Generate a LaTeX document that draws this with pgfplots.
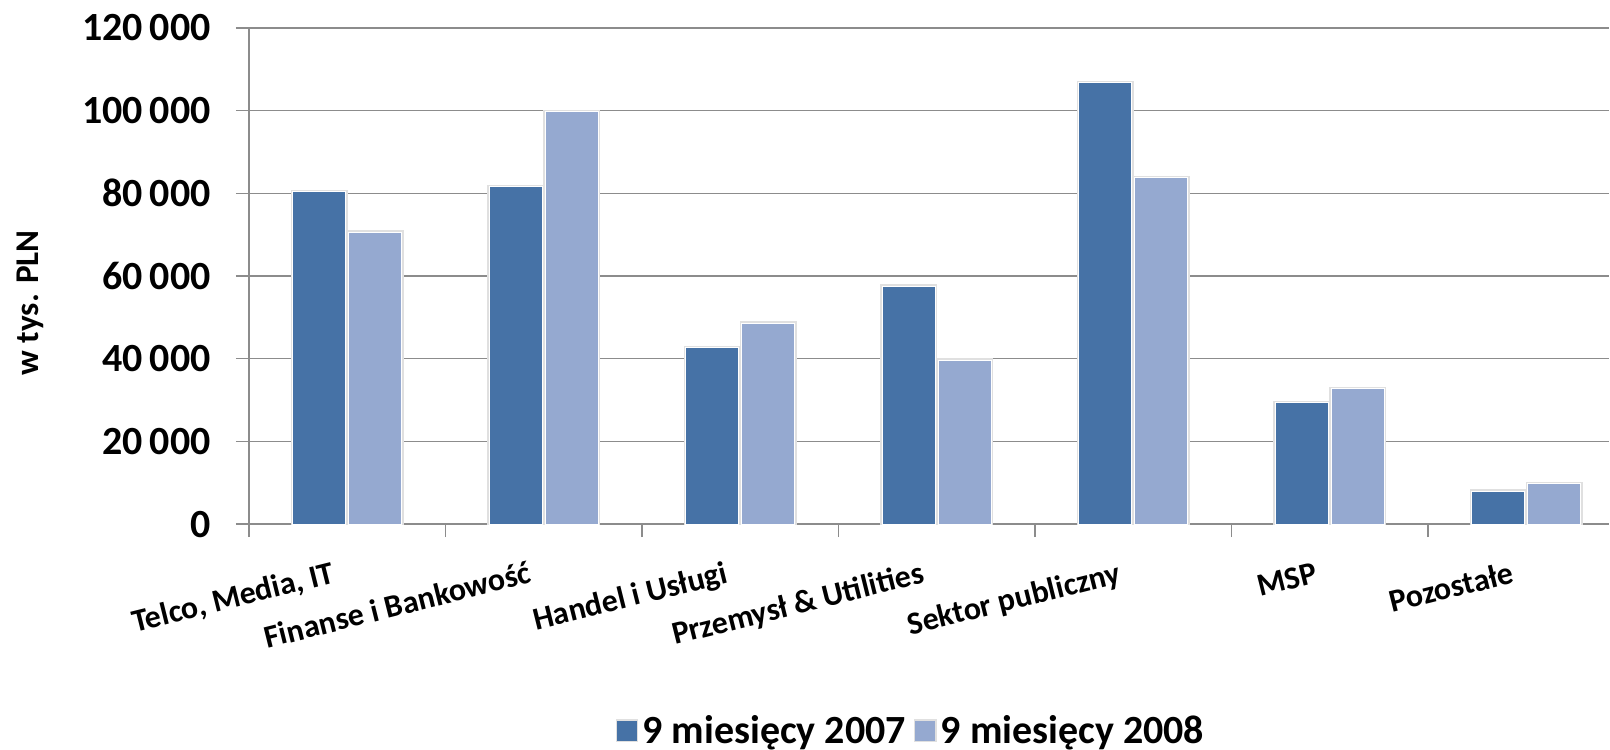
\documentclass[border=0pt]{standalone}
\usepackage{fontspec}
\setmainfont{Carlito}
\usepackage{pgfplots}
\pgfplotsset{compat=1.18}
\definecolor{bdark}{HTML}{4672A6}
\definecolor{blight}{HTML}{95A9D0}
\definecolor{gridc}{HTML}{8C8C8C}
\pgfplotstableread{
x v2007 v2008
0 80400 70600
1 81600 99700
2 42600 48600
3 57500 39600
4 106700 83800
5 29400 32700
6 7900 9800
}\datatable
\begin{document}
\begin{tikzpicture}
\path (-124.5pt,-112.85pt) rectangle (680.5pt,262.15pt);
\begin{axis}[
  at={(0pt,0pt)}, anchor=south west,
  width=680.5pt, height=248.15pt, scale only axis,
  xmin=-0.5, xmax=6.4232, ymin=0, ymax=120000,
  scaled y ticks=false,
  axis lines*=left,
  axis line style={gridc, line width=0.75pt},
  ytick={0,20000,40000,60000,80000,100000,120000},
  yticklabels={0,20\thinspace000,40\thinspace000,60\thinspace000,80\thinspace000,100\thinspace000,120\thinspace000},
  ymajorgrids, grid style={gridc, line width=0.75pt},
  tick align=outside, major tick length=6.5pt,
  tick style={gridc, line width=0.75pt},
  xtick={-0.5,0.5,1.5,2.5,3.5,4.5,5.5},
  xticklabels={{},{},{},{},{},{},{}},
  extra x ticks={0,1,2,3,4,5,6},
  extra x tick labels={{Telco, Media, IT},{Finanse i Bankowość},{Handel i Usługi},{Przemysł \& Utilities},{Sektor publiczny},{MSP},{Pozostałe}},
  extra x tick style={major tick length=0pt,
    xticklabel style={rotate=14, anchor=north east, inner sep=0pt,
      font=\fontsize{16}{19}\selectfont\bfseries, text height=10.3pt, text depth=0pt, yshift=-16.5pt, xshift=-12.2pt}},
  yticklabel style={anchor=east, inner sep=0pt, xshift=-12.45pt, font=\fontsize{20}{24}\selectfont\bfseries},
  legend style={at={(0.4874,-0.4165)}, anchor=center, draw=none, fill=none, legend columns=2, overlay,
    font=\fontsize{20}{24}\selectfont\bfseries,
    /tikz/every even column/.append style={column sep=2pt}},
]
\addplot[ybar, bar width=0.27, bar shift=-0.1425, fill=bdark, draw=white, line width=0.5pt,
  preaction={draw=black!12, line width=2pt},
  legend image code/.code={\fill[bdark] (0pt,-4.7pt) rectangle (9.4pt,4.7pt);}] table[x=x, y=v2007] {\datatable};
\addplot[ybar, bar width=0.27, bar shift=0.1425, fill=blight, draw=white, line width=0.5pt,
  preaction={draw=black!12, line width=2pt},
  legend image code/.code={\fill[blight] (0pt,-4.7pt) rectangle (9.4pt,4.7pt);}] table[x=x, y=v2008] {\datatable};
\legend{9 miesięcy 2007, 9 miesięcy 2008}
\end{axis}
\node[font=\fontsize{16.6}{20}\selectfont\bfseries, rotate=90] at (-109.5pt,110.65pt) {w tys. PLN};
\end{tikzpicture}
\end{document}
